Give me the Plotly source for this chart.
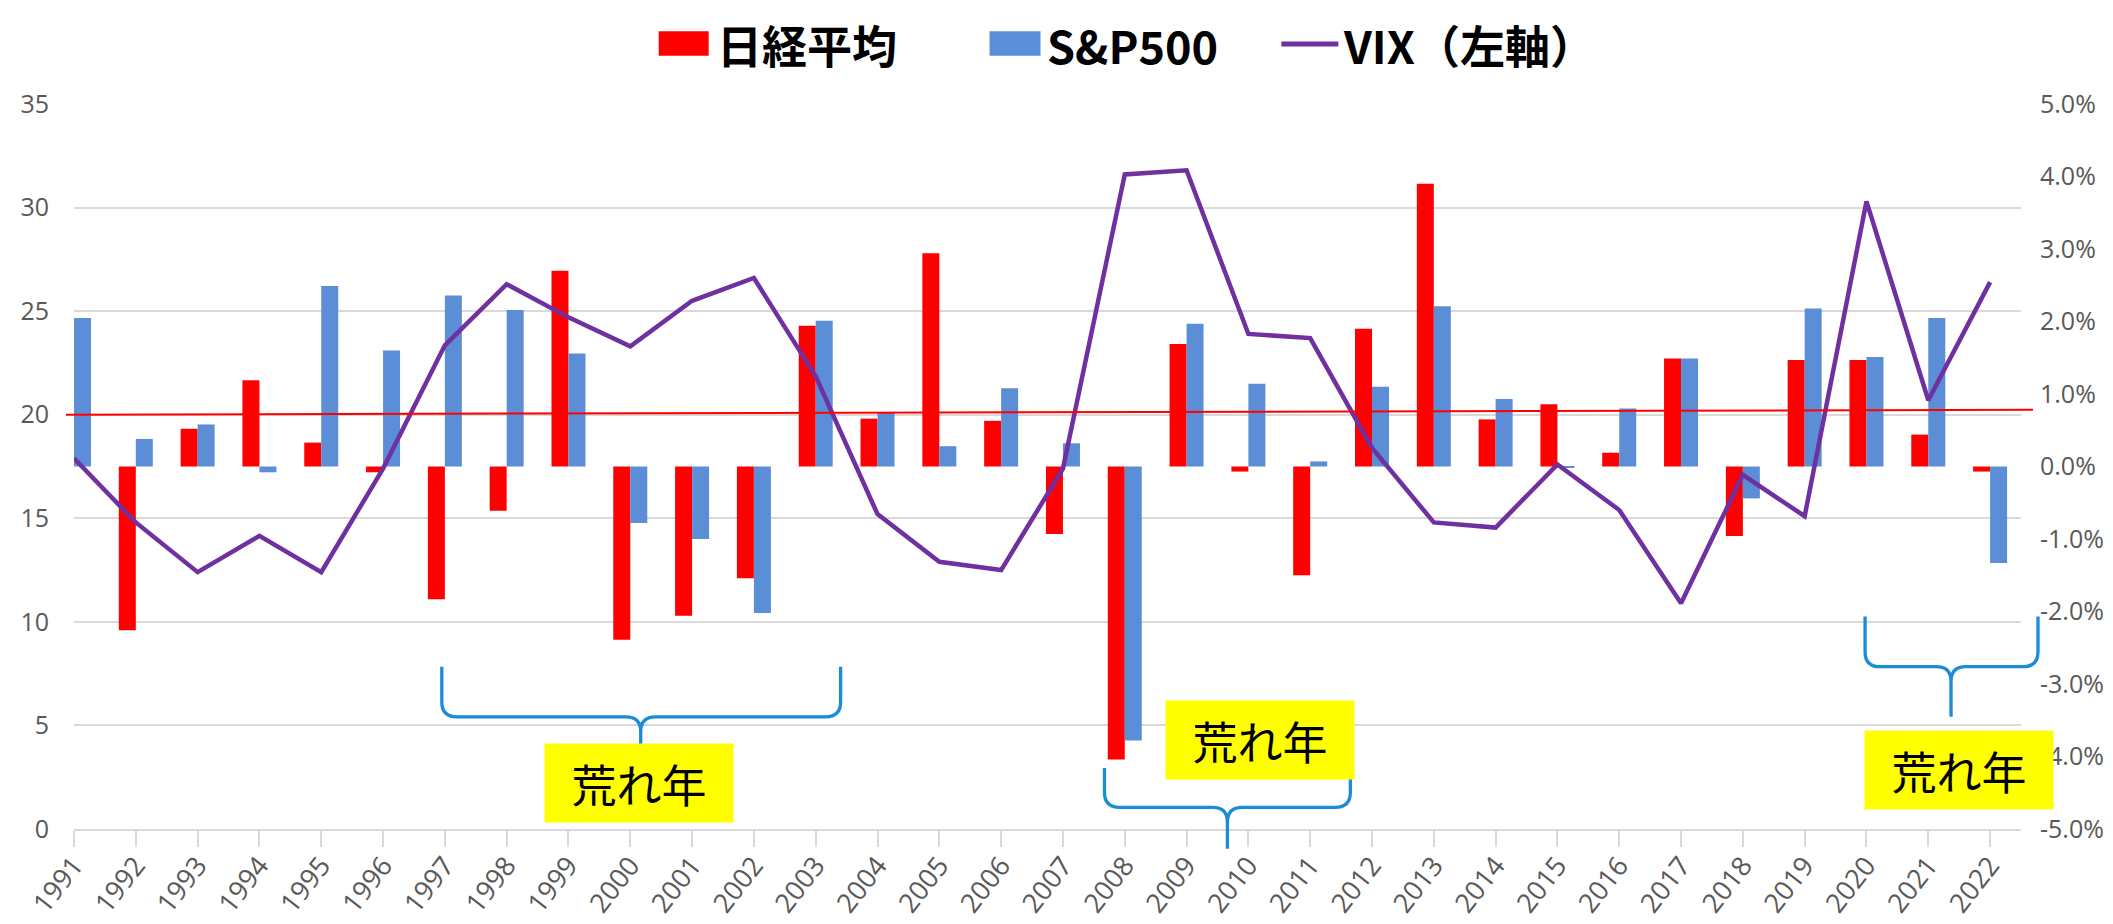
import plotly.graph_objects as go

# data
years = [str(y) for y in range(1991, 2023)]
nikkei = [-0.30, -2.26, 0.52, 1.19, 0.33, -0.08, -1.83, -0.61, 2.70, -2.39,
          -2.06, -1.54, 1.94, 0.66, 2.94, 0.63, -0.93, -4.04, 1.69, -0.07,
          -1.50, 1.90, 3.90, 0.65, 0.86, 0.19, 1.49, -0.96, 1.47, 1.47,
          0.44, -0.07]
sp500 = [2.05, 0.38, 0.58, -0.08, 2.49, 1.60, 2.36, 2.16, 1.56, -0.78,
         -1.00, -2.02, 2.01, 0.74, 0.28, 1.08, 0.32, -3.78, 1.97, 1.14,
         0.07, 1.10, 2.21, 0.93, -0.01, 0.80, 1.49, -0.44, 2.18, 1.51,
         2.05, -1.33]
vix = [17.9, 14.8, 12.4, 14.15, 12.4, 17.4, 23.35, 26.3, 24.7, 23.3,
       25.5, 26.6, 21.85, 15.2, 12.9, 12.5, 17.4, 31.6, 31.8, 23.9,
       23.7, 18.4, 14.8, 14.55, 17.6, 15.4, 10.9, 17.1, 15.1, 30.3,
       20.7, 26.4]
ref_line = [20.0, 20.24]          # red line, left / right end (left axis)
vix_ticks = [0, 5, 10, 15, 20, 25, 30, 35]
pct_ticks = [-5, -4, -3, -2, -1, 0, 1, 2, 3, 4, 5]
legend_names = ["日経平均", "S&P500", "VIX（左軸）"]
note = "荒れ年"

RED = "#FF0000"
BLUE = "#5B8ED6"
PURPLE = "#7030A0"
BRACE = "#1A8CD8"
GRID = "#D9D9D9"
TICK_FONT = dict(family="Open Sans", size=25, color="#595959")
X_FONT = dict(family="Open Sans", size=27, color="#595959")
JP = "Noto Sans CJK JP"

W_PX, H_PX = 2113, 924
L, R, T, B = 65, 2013, 96, 833


def px(x):
    return (x - L) / (R - L)


def py(y):
    return (B - y) / (B - T)


xs = list(range(len(years)))

fig = go.Figure()
fig.add_trace(go.Bar(x=xs, y=nikkei, name=legend_names[0], marker_color=RED,
                     marker_line_width=0, yaxis="y"))
fig.add_trace(go.Bar(x=xs, y=sp500, name=legend_names[1], marker_color=BLUE,
                     marker_line_width=0, yaxis="y"))
fig.add_trace(go.Scatter(x=xs, y=vix, name=legend_names[2], mode="lines",
                         line=dict(color=PURPLE, width=4.5), yaxis="y2"))


def brace(xl, xr, xc, ye, yh, yt, r=15):
    pts = [
        f"M{px(xl)},{py(ye)}", f"L{px(xl)},{py(yh - r)}",
        f"Q{px(xl)},{py(yh)} {px(xl + r)},{py(yh)}",
        f"L{px(xc - r)},{py(yh)}",
        f"Q{px(xc)},{py(yh)} {px(xc)},{py(yh + r)}",
        f"L{px(xc)},{py(yt)}",
        f"M{px(xc)},{py(yh + r)}",
        f"Q{px(xc)},{py(yh)} {px(xc + r)},{py(yh)}",
        f"L{px(xr - r)},{py(yh)}",
        f"Q{px(xr)},{py(yh)} {px(xr)},{py(yh - r)}",
        f"L{px(xr)},{py(ye)}",
    ]
    return dict(type="path", xref="paper", yref="paper", path=" ".join(pts),
                line=dict(color=BRACE, width=3.3), layer="above")


shapes = [
    # red reference line
    dict(type="line", xref="paper", yref="paper", x0=px(57), x1=px(2025),
         y0=ref_line[0] / vix_ticks[-1], y1=ref_line[1] / vix_ticks[-1],
         line=dict(color=RED, width=2), layer="above"),
    brace(433, 832, 632, 668, 719, 747),
    brace(1096, 1342, 1219, 771, 811, 853),
    brace(1857, 2030, 1943, 617, 668, 719),
    # legend keys
    dict(type="rect", xref="paper", yref="paper", x0=px(650), x1=px(700),
         y0=py(47), y1=py(22), fillcolor=RED, line_width=0),
    dict(type="rect", xref="paper", yref="paper", x0=px(981), x1=px(1032),
         y0=py(47), y1=py(22), fillcolor=BLUE, line_width=0),
    dict(type="line", xref="paper", yref="paper", x0=px(1273), x1=px(1330),
         y0=py(35), y1=py(35), line=dict(color=PURPLE, width=5)),
]

annotations = []
for name, x in zip(legend_names, [706, 1036, 1333]):
    annotations.append(dict(xref="paper", yref="paper", x=px(x), y=py(36),
                            xanchor="left", yanchor="middle", showarrow=False,
                            text=f"<b>{name}</b>",
                            font=dict(family=JP, size=45, color="#000000")))
for cx, cy in [(630, 786), (1252, 743), (1951, 773)]:
    annotations.append(dict(xref="paper", yref="paper", x=px(cx), y=py(cy),
                            xanchor="center", yanchor="middle", showarrow=False,
                            text=note, width=188, height=78, bgcolor="#FFFF00",
                            borderpad=0, valign="middle",
                            font=dict(family=JP, size=45, color="#000000")))

fig.update_layout(
    width=W_PX, height=H_PX,
    margin=dict(l=L, r=W_PX - R, t=T, b=H_PX - B),
    paper_bgcolor="white", plot_bgcolor="white",
    barmode="group", bargap=0.45, bargroupgap=0,
    showlegend=False,
    xaxis=dict(range=[0, 31.5], tickvals=xs, ticktext=years, tickangle=-52,
               tickfont=X_FONT, ticks="outside", ticklen=16,
               tickcolor=GRID, tickwidth=1.5, showgrid=False, zeroline=False,
               showline=True, linecolor=GRID, linewidth=1.5,
               ticklabelstandoff=-8),
    yaxis=dict(range=[pct_ticks[0], pct_ticks[-1]], side="right",
               tickvals=pct_ticks, ticktext=[f"{v:.1f}%" for v in pct_ticks],
               tickfont=TICK_FONT, showgrid=False, zeroline=False,
               ticklabelstandoff=18),
    yaxis2=dict(range=[vix_ticks[0], vix_ticks[-1]], side="left",
                overlaying="y", tickvals=vix_ticks, tickfont=TICK_FONT,
                showgrid=True, gridcolor=GRID, gridwidth=1.5, zeroline=False,
                ticklabelstandoff=24),
    shapes=shapes,
    annotations=annotations,
)

fig.write_html("out.html")
